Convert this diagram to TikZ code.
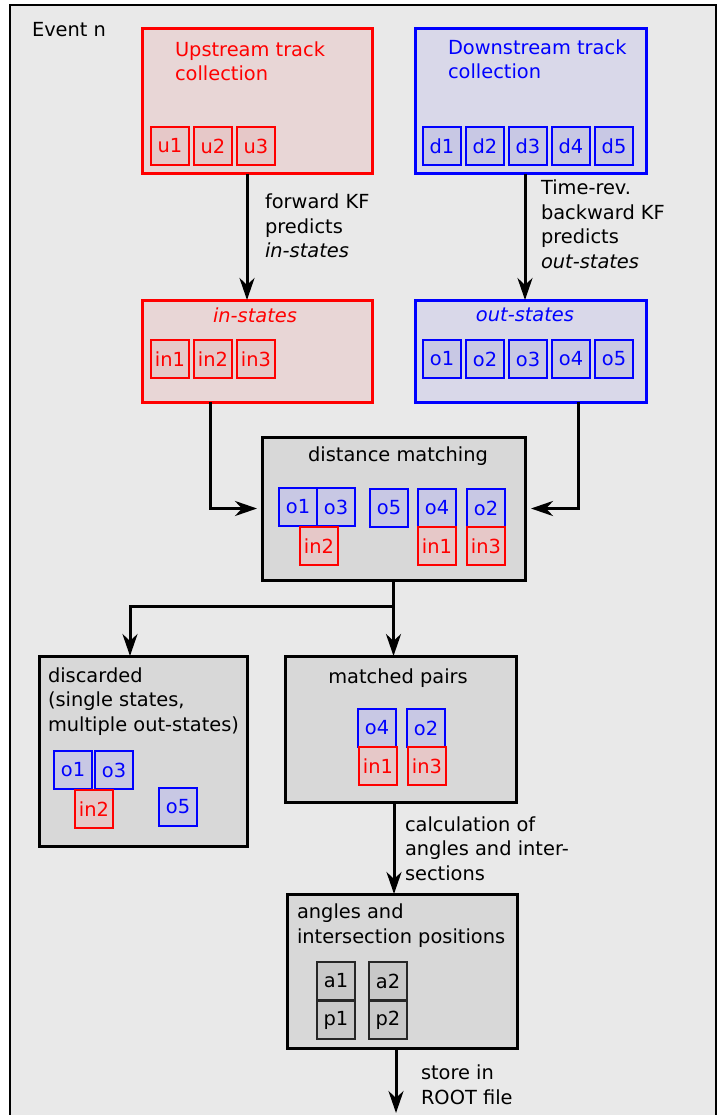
\documentclass[tikz,border=0pt]{standalone}
\usepackage{fontspec}
\setmainfont{DejaVu Sans}
\usetikzlibrary{arrows.meta,positioning}

\definecolor{evbg}{HTML}{E9E9E9}
\definecolor{upfill}{HTML}{E8D6D6}
\definecolor{upsmall}{HTML}{E6C8C8}
\definecolor{dnfill}{HTML}{D9D8E9}
\definecolor{dnsmall}{HTML}{C8C8E4}
\definecolor{grfill}{HTML}{D8D8D8}
\definecolor{grsmall}{HTML}{C8C8C8}

\begin{document}
\begin{tikzpicture}[x=1pt, y=-1pt,
  every node/.style={font=\fontsize{19.4}{24.5}\selectfont, inner sep=0pt, outer sep=0pt},
  bigbox/.style={line width=3pt, anchor=north west},
  upbox/.style={bigbox, draw=red, fill=upfill},
  dnbox/.style={bigbox, draw=blue, fill=dnfill},
  grbox/.style={bigbox, draw=black, fill=grfill},
  sbox/.style={line width=1.5pt, minimum size=38pt},
  rsm/.style={sbox, draw=red, fill=upsmall, text=red},
  bsm/.style={sbox, draw=blue, fill=dnsmall, text=blue},
  gsm/.style={sbox, draw=black!85, fill=grsmall},
  ttl/.style={anchor=base west, align=left},
  flow/.style={line width=3pt, -{Stealth[length=22pt, width=15pt, inset=7pt]}},
]
  \useasboundingbox (0,0) rectangle (718,1115);
  \clip (0,0) rectangle (718,1115);
  \fill[white] (0,0) rectangle (718,1115);
  \draw[line width=2pt, fill=evbg] (10,5) rectangle (716,1140);
  \node[ttl] (event) at (32,37) {Event n};

  % --- track collections ---
  \node[upbox, minimum width=230pt, minimum height=145pt] (up) at (142,29) {};
  \node[ttl, text=red] (uptit) at (175,81) {Upstream track\\collection};
  \foreach \i in {1,2,3}
    \node[rsm] (u\i) at ({170+43*(\i-1)},146) {u\i};

  \node[dnbox, minimum width=231pt, minimum height=145pt] (dn) at (415,29) {};
  \node[ttl, text=blue] (dntit) at (448,79) {Downstream track\\collection};
  \foreach \i in {1,...,5}
    \node[bsm] (d\i) at ({442+43*(\i-1)},146) {d\i};

  % --- predicted states ---
  \node[upbox, minimum width=230pt, minimum height=102pt] (ins) at (142,300) {};
  \node[anchor=base, text=red] (instit) at (255,322) {\textit{in-states}};
  \foreach \i in {1,2,3}
    \node[rsm] (in\i) at ({170+43*(\i-1)},359) {in\i};

  \node[dnbox, minimum width=231pt, minimum height=102pt] (outs) at (415,300) {};
  \node[anchor=base, text=blue] (outstit) at (525,321) {\textit{out-states}};
  \foreach \i in {1,...,5}
    \node[bsm] (o\i) at ({442+43*(\i-1)},359) {o\i};

  \draw[flow] ([xshift=-10pt]up.south) -- ([xshift=-10pt]ins.north);
  \node[ttl] (fwdlbl) at (265,258) {forward KF\\predicts\\\textit{in-states}};
  \draw[flow] ([xshift=-5.5pt]dn.south) -- ([xshift=-5.5pt]outs.north);
  \node[ttl] (bwdlbl) at (541,268) {Time-rev.\\backward KF\\predicts\\\textit{out-states}};

  % --- distance matching ---
  \node[grbox, minimum width=263pt, minimum height=143pt] (dm) at (262,437) {};
  \node[anchor=base] (dmtit) at (398,461) {distance matching};
  \node[bsm] (dm-o1) at (298,507) {o1};
  \node[bsm] (dm-o3) at (336,507) {o3};
  \node[rsm] (dm-in2) at (319,546) {in2};
  \node[bsm] (dm-o5) at (389,508) {o5};
  \node[bsm] (dm-o4) at (437,508) {o4};
  \node[rsm] (dm-in1) at (437,546) {in1};
  \node[bsm] (dm-o2) at (486,508) {o2};
  \node[rsm] (dm-in3) at (486,546) {in3};

  \draw[flow, shorten >=5pt] ([xshift=-47pt]ins.south) |- (dm.west);
  \draw[flow, shorten >=6pt] ([xshift=47.5pt]outs.south) |- (dm.east);

  % --- discarded / matched ---
  \node[grbox, minimum width=208pt, minimum height=190pt] (dc) at (39,656) {};
  \node[ttl] (dctit) at (48,731) {discarded\\(single states,\\multiple out-states)};
  \node[bsm] (dc-o1) at (73,770) {o1};
  \node[bsm] (dc-o3) at (114,770) {o3};
  \node[rsm] (dc-in2) at (94,809) {in2};
  \node[bsm] (dc-o5) at (178,807) {o5};

  \node[grbox, minimum width=231pt, minimum height=146pt] (mp) at (285,656) {};
  \node[anchor=base] (mptit) at (398,683) {matched pairs};
  \node[bsm] (mp-o4) at (377,728) {o4};
  \node[rsm] (mp-in1) at (378,766) {in1};
  \node[bsm] (mp-o2) at (426,728) {o2};
  \node[rsm] (mp-in3) at (427,766) {in3};

  \coordinate (split) at ([yshift=-26pt]dm.south);
  \draw[line width=3pt] (dm.south) -- (split);
  \draw[flow] (split) -| ([xshift=-13pt]dc.north);
  \draw[flow] (split) -- (split |- mp.north);

  % --- angles and intersections ---
  \node[grbox, minimum width=230pt, minimum height=154pt] (ang) at (287,894) {};
  \node[ttl] (angtit) at (297,943) {angles and\\intersection positions};
  \node[gsm] (a1) at (336,981) {a1};
  \node[gsm] (p1) at (336,1020) {p1};
  \node[gsm] (a2) at (388,981) {a2};
  \node[gsm] (p2) at (388,1020) {p2};

  \draw[flow] ([xshift=-6.5pt]mp.south) -- ([xshift=-6.5pt]mp.south |- ang.north);
  \node[ttl] (calclbl) at (405,880) {calculation of\\angles and inter-\\sections};

  \coordinate (rootfile) at (396,1113);
  \draw[flow] (ang.south -| rootfile) -- (rootfile);
  \node[ttl] (storelbl) at (421,1104) {store in\\ROOT file};
\end{tikzpicture}
\end{document}
